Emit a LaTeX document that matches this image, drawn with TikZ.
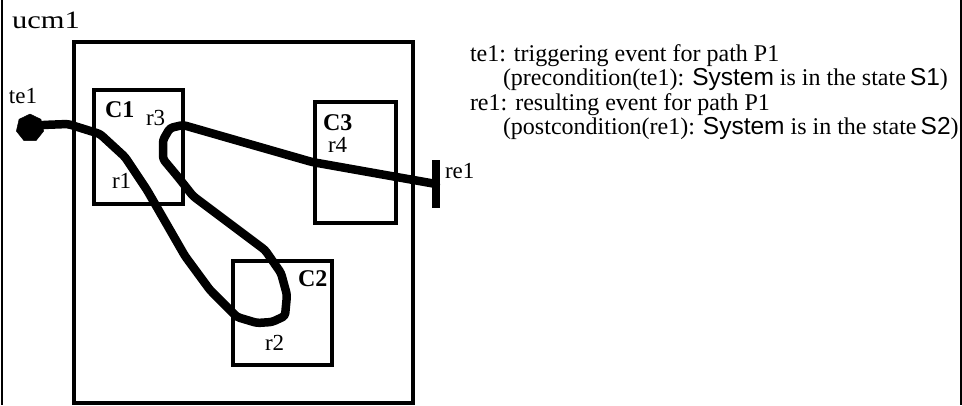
\documentclass[tikz,border=0pt]{standalone}
\usepackage{fontspec}
\setmainfont{Liberation Serif}
\newfontfamily\arialf{Liberation Sans}
\usetikzlibrary{shapes.geometric}
\tikzset{
  bigbox/.style={draw, line width=4pt, inner sep=0pt, outer sep=0pt},
  cbox/.style={draw, line width=3.5pt, inner sep=0pt, outer sep=0pt},
  lbl/.style={anchor=base west, inner sep=0pt, outer sep=0pt, font=\fontsize{23}{24}\selectfont},
  blbl/.style={lbl, font=\fontsize{24}{26}\selectfont\bfseries},
  txt/.style={anchor=base west, inner sep=0pt, outer sep=0pt, font=\fontsize{24}{24}\selectfont},
  sanst/.style={font=\fontsize{24.5}{24}\selectfont\arialf},
  ucmpath/.style={line width=8.5pt, line join=round, line cap=round, rounded corners=3pt},
  startpt/.style={regular polygon, regular polygon sides=7, fill=black, draw=black, minimum size=28pt, inner sep=0pt},
  endbar/.style={fill=black, minimum width=8pt, minimum height=48pt, inner sep=0pt, outer sep=0pt}
}
\newcommand{\sansword}[1]{{\fontsize{24.5}{24}\selectfont\arialf #1}}
\begin{document}
\begin{tikzpicture}[x=1pt,y=-1pt]
\useasboundingbox (0,0) rectangle (962,405);
\fill[white] (0,0) rectangle (962,405);
% outer frame sides
\draw[line width=2pt] (1.5,0) -- (1.5,405);
\draw[line width=2pt] (960.5,0) -- (960.5,405);
\node[anchor=base west, inner sep=0pt, font=\fontsize{25}{28}\selectfont] (ucm) at (12,28.5) {\scalebox{1.22}[1]{ucm1}};
% boxes
\node[bigbox, minimum width=339pt, minimum height=361pt] (big) at (243.5,222.5) {};
\node[cbox, minimum width=89pt, minimum height=114pt] (c1) at (138.5,147) {};
\node[cbox, minimum width=81pt, minimum height=121pt] (c3) at (355.5,162.5) {};
\node[cbox, minimum width=99pt, minimum height=104pt] (c2) at (282.5,313) {};
% labels
\node[blbl] (c1l) at (105,117) {C1};
\node[blbl] (c3l) at (323,130) {C3};
\node[blbl] (c2l) at (298,286) {C2};
\node[lbl] (r1) at (112,188) {r1};
\node[lbl] (r3) at (146,125) {r3};
\node[lbl] (r4) at (328,152) {r4};
\node[lbl] (r2) at (265,350) {r2};
\node[lbl] (te1l) at (9,103) {te1};
\node[lbl] (re1l) at (445,178) {re1};
% start and end
\node[startpt] (te1) at (30,128) {};
\node[endbar] (re1) at (436,184) {};
% path
\draw[ucmpath] (te1.center) -- (42,125) -- (68,124) -- (100,134) -- (125,157) -- (147,190)
  -- (185,256) -- (210,290) -- (237,317) -- (257,323) -- (272,322) -- (285,316)
  -- (287,295) -- (281,273) -- (265,250) -- (193,196) -- (178,177) -- (163,159)
  -- (163,140) -- (170,128) -- (183,125) -- (312,162) -- (re1.center);
% legend
\node[txt] (l1) at (470,61.5) {te1: triggering event for path P1};
\node[txt] (l2) at (503,85.5) {(precondition(te1): \sansword{System} is in the state\sansword{\,S1})};
\node[txt] (l3) at (470,110) {re1: resulting event for path P1};
\node[txt] (l4) at (503,134) {(postcondition(re1): \sansword{System} is in the state\sansword{\,S2})};
\end{tikzpicture}
\end{document}
